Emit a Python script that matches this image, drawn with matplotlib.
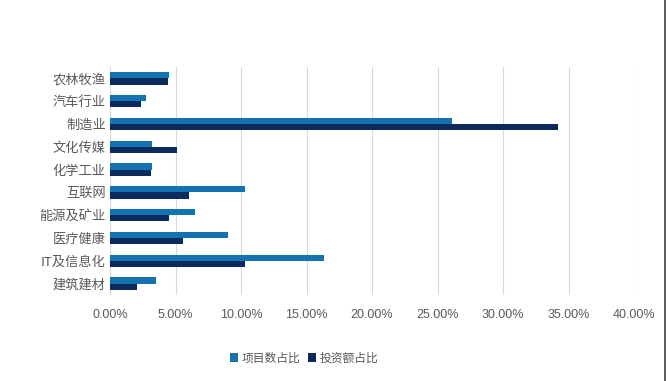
import numpy as np
import matplotlib.pyplot as plt
from matplotlib.ticker import FuncFormatter

plt.rcParams['font.family'] = ['Noto Sans CJK SC', 'DejaVu Sans']

categories = ['农林牧渔', '汽车行业', '制造业', '文化传媒', '化学工业',
              '互联网', '能源及矿业', '医疗健康', 'IT及信息化', '建筑建材']
project_share = [4.5, 2.75, 26.1, 3.2, 3.2, 10.3, 6.5, 9.0, 16.3, 3.5]
invest_share = [4.43, 2.37, 34.2, 5.1, 3.1, 6.03, 4.5, 5.57, 10.3, 2.06]
xticks = [0, 5, 10, 15, 20, 25, 30, 35, 40]

light = '#1273B0'
dark = '#0C2A5B'
text_col = '#595959'

fig = plt.figure(figsize=(6.68, 3.81), dpi=100)
ax = fig.add_axes([110 / 668, 1 - 295 / 381, 524 / 668, 228 / 381])

y = np.arange(len(categories))
h = 0.27
ax.barh(y - h / 2, project_share, height=h, color=light, label='项目数占比', zorder=3)
ax.barh(y + h / 2, invest_share, height=h, color=dark, label='投资额占比', zorder=3)

ax.set_xlim(0, 40)
ax.set_ylim(len(categories) - 0.5, -0.5)
ax.set_xticks(xticks)
ax.xaxis.set_major_formatter(FuncFormatter(lambda v, p: '%.2f%%' % v))
ax.set_yticks(y)
ax.set_yticklabels(categories, fontsize=9.5, color=text_col)
for lab in ax.get_xticklabels():
    lab.set_family(['Liberation Sans', 'DejaVu Sans'])
ax.tick_params(axis='x', labelsize=9, colors=text_col, length=0, pad=10)
ax.tick_params(axis='y', length=0, pad=3)
ax.grid(axis='x', color='#D9D9D9', linewidth=0.8, zorder=0)
for s in ax.spines.values():
    s.set_visible(False)

fig.legend(loc='center', bbox_to_anchor=(304 / 668, 1 - 358 / 381), ncol=2,
           frameon=False, fontsize=8.5, handlelength=0.7, handleheight=0.7,
           handletextpad=0.3, columnspacing=0.6, labelcolor=text_col)

fig.add_artist(plt.Line2D([665 / 668, 665 / 668], [0, 1], color='#404040', linewidth=1.2))

fig.savefig('out.png', dpi=100)
